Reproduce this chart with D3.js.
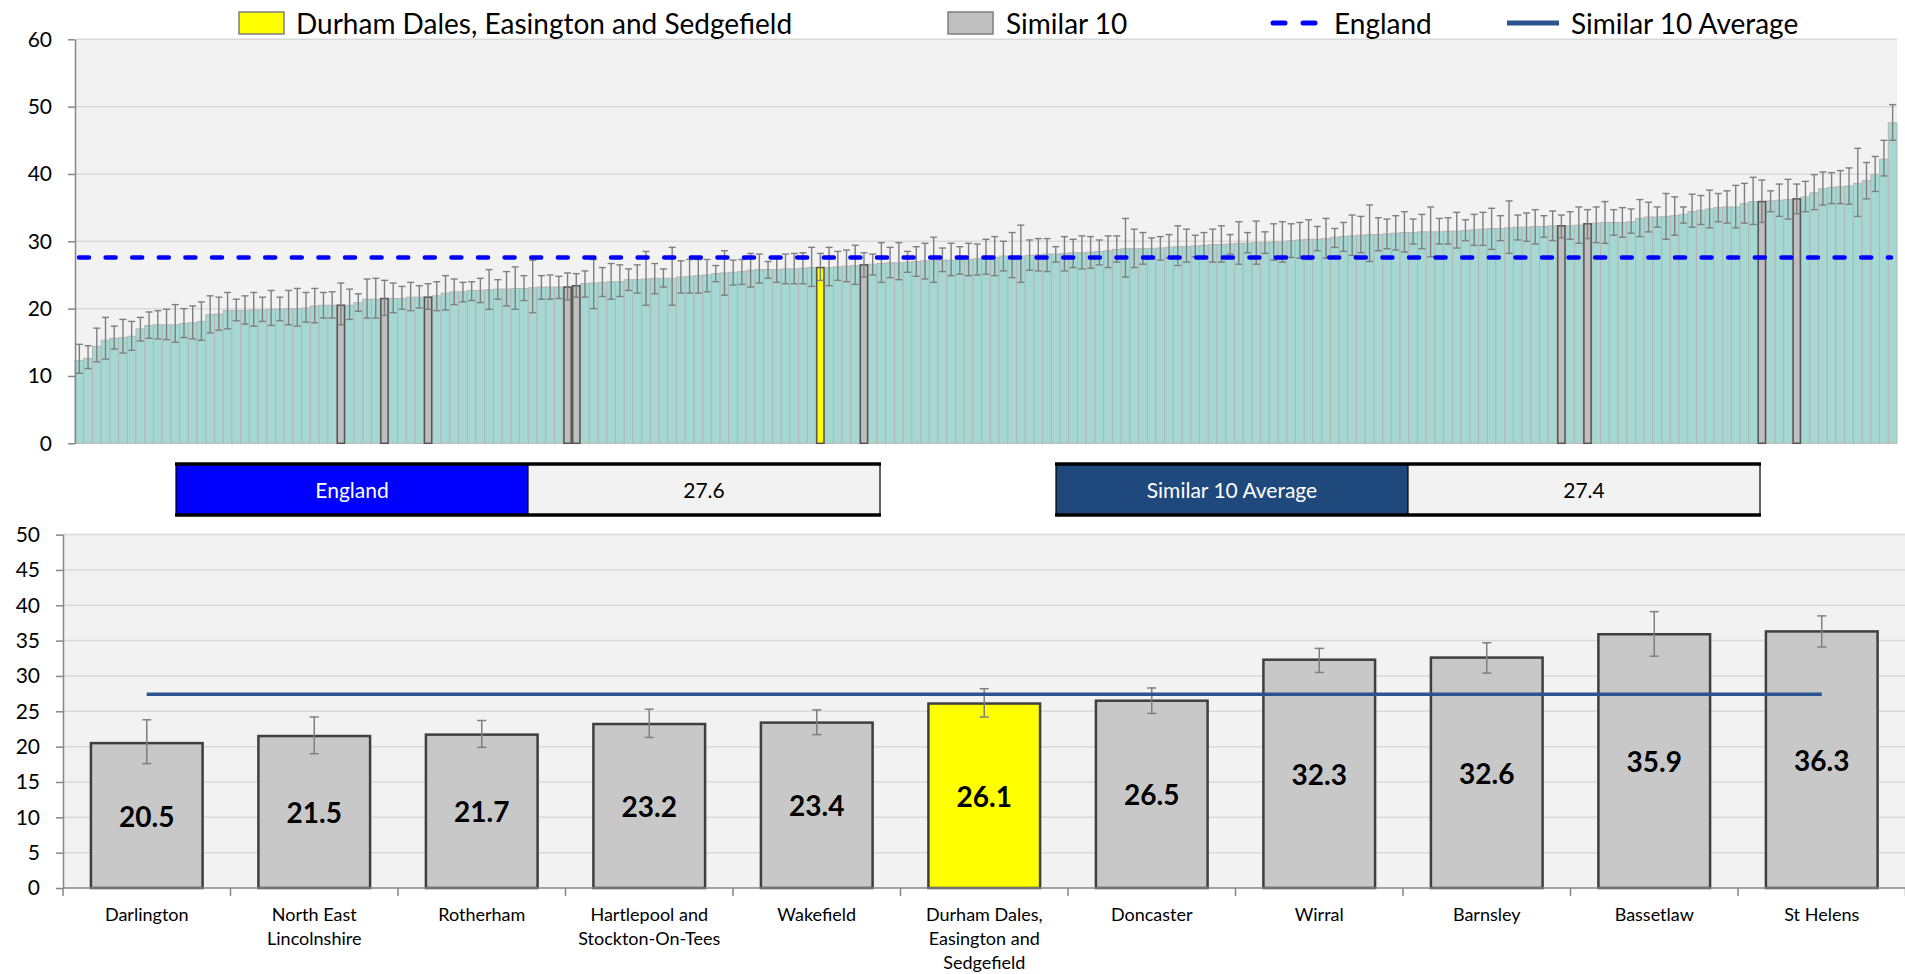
<!DOCTYPE html>
<html><head><meta charset="utf-8">
<script src="https://cdn.jsdelivr.net/npm/d3@7"></script>
<style>body{margin:0;background:#fff;} svg{display:block;font-family:Lato,"Open Sans",sans-serif;}</style>
</head><body>
<svg id="c" width="1905" height="974"></svg>
<script>
// ---------- DATA ----------
// All CCGs, ranked ascending (top chart)
const allValues = [12.3,12.6,14.4,15.3,15.6,15.7,15.9,17.0,17.5,17.6,17.6,17.6,17.8,17.9,18.1,19.1,19.2,19.7,19.7,19.7,
19.8,19.8,19.9,19.9,20.0,20.0,20.1,20.4,20.5,20.5,20.5,20.5,20.9,21.4,21.4,21.5,21.5,21.5,21.7,21.7,
21.7,21.9,22.3,22.5,22.5,22.7,22.7,22.8,22.9,22.9,23.0,23.0,23.1,23.2,23.2,23.2,23.2,23.4,23.7,23.8,
23.9,24.0,24.0,24.3,24.3,24.4,24.5,24.5,24.5,24.7,24.8,24.9,25.0,25.2,25.3,25.4,25.5,25.7,25.8,25.8,
25.8,25.9,25.9,26.0,26.1,26.1,26.1,26.2,26.3,26.4,26.5,26.6,26.7,26.8,26.8,26.9,27.0,27.1,27.1,27.2,
27.2,27.3,27.3,27.4,27.5,27.6,27.8,27.8,27.8,27.9,28.0,28.1,28.1,28.2,28.3,28.3,28.4,28.5,28.6,28.8,
28.9,28.9,28.9,28.9,29.0,29.1,29.2,29.2,29.3,29.4,29.5,29.5,29.6,29.7,29.7,29.8,29.8,29.9,29.9,30.1,
30.2,30.3,30.3,30.4,30.6,30.7,30.8,30.9,31.0,31.0,31.1,31.2,31.3,31.3,31.4,31.4,31.4,31.5,31.5,31.6,
31.7,31.8,31.9,31.9,32.0,32.1,32.1,32.2,32.2,32.3,32.3,32.3,32.4,32.6,32.7,32.8,32.8,32.8,32.9,33.4,
33.6,33.6,33.7,33.8,34.0,34.4,34.6,34.8,35.0,35.1,35.1,35.6,35.9,35.9,36.0,36.1,36.2,36.3,36.6,37.2,
37.8,38.0,38.1,38.2,38.6,39.0,39.9,42.2,47.6];
const allLower = [10.4,11.1,12.1,12.5,14.0,13.4,13.8,15.2,15.6,15.5,15.4,15.0,15.7,15.5,15.3,16.4,16.8,17.0,18.2,17.7,
17.4,18.1,17.5,18.2,17.6,17.4,18.0,17.9,18.6,18.6,17.6,18.4,19.6,18.6,18.6,19.0,19.4,19.9,19.7,20.1,
19.9,19.7,19.8,20.6,21.0,21.2,20.9,19.9,21.4,20.4,19.9,21.2,19.4,21.4,21.4,21.5,21.3,21.7,21.7,20.0,
21.8,21.4,21.8,22.7,22.3,20.5,22.2,23.2,20.5,22.3,22.3,22.3,22.5,24.0,22.0,23.5,23.6,23.2,23.8,24.5,
23.9,23.7,23.7,23.7,23.3,24.2,23.4,24.2,24.0,23.6,24.7,25.0,23.9,24.6,24.3,25.4,24.8,24.4,23.9,25.5,
24.9,25.1,24.9,25.0,25.1,24.9,25.6,24.6,23.9,25.7,25.6,25.5,26.9,25.6,26.1,25.9,26.0,26.5,26.1,26.9,
24.7,26.1,26.6,27.4,27.2,27.5,26.4,26.9,27.7,27.7,26.9,26.9,28.1,26.6,28.3,26.6,28.2,27.2,26.9,27.6,
27.5,27.3,28.6,27.5,29.1,28.5,27.9,28.3,27.0,28.6,28.9,28.7,28.4,29.6,28.9,27.7,29.6,29.6,29.0,30.1,
29.4,29.4,28.8,30.1,28.2,30.2,30.0,29.6,30.6,30.1,30.5,30.3,29.7,30.4,29.8,29.7,30.9,30.6,31.2,30.7,
31.4,32.1,30.3,30.9,32.7,32.1,32.5,32.0,32.9,32.7,32.0,32.7,32.5,32.8,34.4,33.7,33.3,34.1,34.4,34.7,
35.4,35.6,35.6,35.5,33.7,36.3,37.4,39.7,45.0];
const allUpper = [14.7,14.5,17.1,18.7,17.4,18.4,18.1,18.7,19.5,19.7,19.9,20.6,20.0,20.4,21.0,21.9,21.7,22.4,21.4,21.9,
22.4,21.7,22.7,21.7,22.7,23.0,22.4,23.0,22.4,22.5,23.8,22.9,22.2,24.4,24.5,24.2,23.8,23.3,23.9,23.4,
23.7,24.0,24.9,24.4,23.9,24.0,24.5,25.8,24.3,25.5,26.2,24.9,27.2,24.9,25.0,24.8,25.3,25.2,25.6,27.3,
26.1,26.7,26.5,25.9,26.5,28.5,26.7,25.9,29.1,27.1,27.3,27.3,27.3,26.4,28.6,27.2,27.3,28.2,28.1,27.0,
27.6,28.1,28.2,28.3,29.1,28.2,29.1,28.5,28.7,29.4,28.3,28.1,29.8,29.1,29.8,28.5,29.2,29.7,30.6,29.0,
29.7,29.2,29.7,29.6,30.3,30.7,30.0,31.3,32.4,30.2,30.4,30.4,29.2,30.7,30.3,30.8,30.7,30.2,30.8,30.8,
33.4,31.8,31.3,30.5,30.7,31.0,32.3,31.8,30.9,31.3,31.8,32.3,31.0,32.9,31.3,33.0,31.4,32.6,32.9,32.6,
32.8,33.2,32.2,33.4,31.9,32.8,33.9,33.7,35.4,33.5,33.3,33.8,34.4,33.3,34.0,35.1,33.4,33.5,34.3,33.2,
34.0,34.3,34.9,33.8,36.0,33.9,34.2,34.7,33.8,34.5,33.9,34.4,35.1,34.7,35.1,35.9,34.7,35.0,34.8,36.2,
35.8,35.1,37.1,36.6,35.1,37.0,36.8,37.6,37.1,37.5,38.3,38.6,39.5,39.1,37.5,38.5,39.2,38.5,38.9,39.9,
40.3,40.2,40.5,40.9,43.8,41.7,42.6,45.0,50.3];

// Similar 10 + focus CCG (bottom chart)
const similarNames = ["Darlington","North East Lincolnshire","Rotherham","Hartlepool and Stockton-On-Tees","Wakefield",
  "Durham Dales, Easington and Sedgefield","Doncaster","Wirral","Barnsley","Bassetlaw","St Helens"];
const similarValues = [20.5,21.5,21.7,23.2,23.4,26.1,26.5,32.3,32.6,35.9,36.3];
const similarLower  = [17.6,19.0,19.9,21.3,21.7,24.2,24.7,30.5,30.4,32.8,34.1];
const similarUpper  = [23.8,24.2,23.7,25.3,25.2,28.2,28.3,33.9,34.7,39.1,38.5];
const similarRank   = [30,35,40,56,57,85,90,170,173,193,197];   // position in ranked list
const focusName = "Durham Dales, Easington and Sedgefield";
const englandValue = 27.6;
const similarAverage = 27.4;
const topTicks = [0,10,20,30,40,50,60];
const bottomTicks = [0,5,10,15,20,25,30,35,40,45,50];

// ---------- DRAW ----------
const svg = d3.select("#c");
const AX = "#868686", GRID = "#d9d9d9", BG = "#f2f2f2";

// ===== TOP CHART =====
const T = {x0:75, x1:1897, y0:39.3, y1:443.3};
const xT = d3.scaleBand().domain(d3.range(allValues.length)).range([T.x0, T.x1]).padding(0);
const yT = d3.scaleLinear().domain([0,60]).range([T.y1, T.y0]);
svg.append("rect").attr("x",T.x0).attr("y",T.y0).attr("width",T.x1-T.x0).attr("height",T.y1-T.y0).attr("fill",BG);
svg.append("g").selectAll("line").data(topTicks.filter(t=>t>0)).join("line")
  .attr("x1",T.x0).attr("x2",T.x1).attr("y1",d=>yT(d)).attr("y2",d=>yT(d))
  .attr("stroke",GRID).attr("stroke-width",1.5);
svg.append("g").selectAll("rect").data(allValues).join("rect")
  .attr("x",(d,i)=>xT(i)).attr("width",xT.bandwidth())
  .attr("y",d=>yT(d)).attr("height",d=>yT(0)-yT(d))
  .attr("fill","#a6d8d3").attr("stroke","#b5b5b5").attr("stroke-width",1);
// highlighted
svg.append("g").selectAll("rect").data(similarRank).join("rect")
  .attr("x",r=>xT(r)+0.75).attr("width",xT.bandwidth()-1.5)
  .attr("y",r=>yT(allValues[r])).attr("height",r=>yT(0)-yT(allValues[r]))
  .attr("fill",(r,i)=>similarNames[i]===focusName?"#ffff00":"#bfbfbf")
  .attr("stroke","#555").attr("stroke-width",1.5);
// error bars
const ebT = svg.append("g").attr("stroke","#7f7f7f").attr("stroke-width",1.4);
allValues.forEach((v,i)=>{
  const cx = xT(i)+xT.bandwidth()/2, cw = 3.5;
  ebT.append("line").attr("x1",cx).attr("x2",cx).attr("y1",yT(allLower[i])).attr("y2",yT(allUpper[i]));
  ebT.append("line").attr("x1",cx-cw).attr("x2",cx+cw).attr("y1",yT(allLower[i])).attr("y2",yT(allLower[i]));
  ebT.append("line").attr("x1",cx-cw).attr("x2",cx+cw).attr("y1",yT(allUpper[i])).attr("y2",yT(allUpper[i]));
});
// England line
svg.append("line").attr("x1",T.x0+4).attr("x2",T.x1-6).attr("y1",yT(englandValue)).attr("y2",yT(englandValue))
  .attr("stroke","#0000ff").attr("stroke-width",4.5).attr("stroke-dasharray","10,16.6").attr("stroke-linecap","round");
// y axis
const gyT = svg.append("g").attr("transform",`translate(${T.x0},0)`)
  .call(d3.axisLeft(yT).tickValues(topTicks).tickSize(7).tickSizeOuter(0).tickPadding(16));
gyT.selectAll("path,line").attr("stroke",AX).attr("stroke-width",1.5);
gyT.selectAll("text").attr("font-size",21).attr("fill","#000").attr("font-family","Lato");

// legend
const L = svg.append("g").attr("font-size",28).attr("fill","#000");
const ly = 23;
L.append("rect").attr("x",239).attr("y",12).attr("width",45).attr("height",22).attr("fill","#ffff00").attr("stroke","#7f7f7f").attr("stroke-width",1.5);
L.append("text").attr("x",296).attr("y",ly).attr("dominant-baseline","central").text(focusName);
L.append("rect").attr("x",948).attr("y",12).attr("width",45).attr("height",22).attr("fill","#bfbfbf").attr("stroke","#7f7f7f").attr("stroke-width",1.5);
L.append("text").attr("x",1006).attr("y",ly).attr("dominant-baseline","central").text("Similar 10");
L.append("line").attr("x1",1273).attr("x2",1316).attr("y1",ly).attr("y2",ly).attr("stroke","#0000ff")
  .attr("stroke-width",5).attr("stroke-dasharray","12,18").attr("stroke-linecap","round");
L.append("text").attr("x",1334).attr("y",ly).attr("dominant-baseline","central").text("England");
L.append("line").attr("x1",1507).attr("x2",1559).attr("y1",ly).attr("y2",ly).attr("stroke","#2c5490").attr("stroke-width",5);
L.append("text").attr("x",1571).attr("y",ly).attr("dominant-baseline","central").text("Similar 10 Average");

// ===== SUMMARY TABLE =====
function box(x, label, value, fill){
  const g = svg.append("g");
  const y0 = 464, h = 51, w = 352;
  g.append("rect").attr("x",x).attr("y",y0).attr("width",w).attr("height",h).attr("fill",fill);
  g.append("rect").attr("x",x+w).attr("y",y0).attr("width",w).attr("height",h).attr("fill","#f2f2f2");
  g.append("rect").attr("x",x).attr("y",y0).attr("width",2*w).attr("height",h).attr("fill","none").attr("stroke","#000").attr("stroke-width",1.2);
  g.append("line").attr("x1",x+w).attr("x2",x+w).attr("y1",y0).attr("y2",y0+h).attr("stroke","#000").attr("stroke-width",1.2);
  [y0, y0+h].forEach(yy=>g.append("line").attr("x1",x-1).attr("x2",x+2*w+1).attr("y1",yy).attr("y2",yy).attr("stroke","#000").attr("stroke-width",3.5));
  g.append("text").attr("x",x+w/2).attr("y",y0+h/2).attr("text-anchor","middle").attr("dominant-baseline","central")
    .attr("font-size",21).attr("fill","#fff").text(label);
  g.append("text").attr("x",x+1.5*w).attr("y",y0+h/2).attr("text-anchor","middle").attr("dominant-baseline","central")
    .attr("font-size",21).attr("fill","#000").text(value.toFixed(1));
}
box(176, "England", englandValue, "#0000ff");
box(1056, "Similar 10 Average", similarAverage, "#1f497d");

// ===== BOTTOM CHART =====
const B = {x0:63, x1:1905.5, y0:534.6, y1:888};
const xB = d3.scaleBand().domain(similarNames).range([B.x0, B.x1]).paddingInner(1/3).paddingOuter(1/6);
const yB = d3.scaleLinear().domain([0,50]).range([B.y1, B.y0]);
svg.append("rect").attr("x",B.x0).attr("y",B.y0).attr("width",B.x1-B.x0).attr("height",B.y1-B.y0).attr("fill",BG);
svg.append("g").selectAll("line").data(bottomTicks.filter(t=>t>0)).join("line")
  .attr("x1",B.x0).attr("x2",B.x1).attr("y1",d=>yB(d)).attr("y2",d=>yB(d))
  .attr("stroke",GRID).attr("stroke-width",1.5);
const bw = xB.bandwidth();
svg.append("g").selectAll("rect").data(similarNames).join("rect")
  .attr("x",d=>xB(d)).attr("width",bw)
  .attr("y",(d,i)=>yB(similarValues[i])).attr("height",(d,i)=>yB(0)-yB(similarValues[i]))
  .attr("fill",d=>d===focusName?"#ffff00":"#c8c8c8").attr("stroke","#3f3f3f").attr("stroke-width",2.5);
const ebB = svg.append("g").attr("stroke","#7f7f7f").attr("stroke-width",1.5);
similarNames.forEach((n,i)=>{
  const cx = xB(n)+bw/2, cw = 4.5;
  ebB.append("line").attr("x1",cx).attr("x2",cx).attr("y1",yB(similarLower[i])).attr("y2",yB(similarUpper[i]));
  ebB.append("line").attr("x1",cx-cw).attr("x2",cx+cw).attr("y1",yB(similarLower[i])).attr("y2",yB(similarLower[i]));
  ebB.append("line").attr("x1",cx-cw).attr("x2",cx+cw).attr("y1",yB(similarUpper[i])).attr("y2",yB(similarUpper[i]));
});
// average line
svg.append("line").attr("x1",xB(similarNames[0])+bw/2).attr("x2",xB(similarNames[similarNames.length-1])+bw/2)
  .attr("y1",yB(similarAverage)).attr("y2",yB(similarAverage)).attr("stroke","#2c5490").attr("stroke-width",3.5);
// value labels
svg.append("g").selectAll("text").data(similarNames).join("text")
  .attr("x",d=>xB(d)+bw/2).attr("y",(d,i)=>(yB(similarValues[i])+yB(0))/2)
  .attr("text-anchor","middle").attr("dominant-baseline","central")
  .attr("font-size",28).attr("font-weight","bold").attr("fill","#000")
  .text((d,i)=>similarValues[i].toFixed(1));
// y axis
const gyB = svg.append("g").attr("transform",`translate(${B.x0},0)`)
  .call(d3.axisLeft(yB).tickValues(bottomTicks).tickSize(7).tickSizeOuter(0).tickPadding(16));
gyB.selectAll("path,line").attr("stroke",AX).attr("stroke-width",1.5);
gyB.selectAll("text").attr("font-size",21).attr("fill","#000").attr("font-family","Lato");
// x axis
const gxB = svg.append("g");
gxB.append("line").attr("x1",B.x0).attr("x2",B.x1).attr("y1",B.y1).attr("y2",B.y1).attr("stroke",AX).attr("stroke-width",1.5);
const step = xB.step();
gxB.selectAll("line.t").data(d3.range(similarNames.length+1)).join("line").attr("class","t")
  .attr("x1",k=>B.x0+k*step).attr("x2",k=>B.x0+k*step).attr("y1",B.y1).attr("y2",B.y1+8)
  .attr("stroke",AX).attr("stroke-width",1.5);
// category labels with wrapping
const maxW = 150;
similarNames.forEach(n=>{
  const t = svg.append("text").attr("x",xB(n)+bw/2).attr("y",914).attr("text-anchor","middle")
    .attr("dominant-baseline","central").attr("font-size",18).attr("fill","#000");
  const words = n.split(" ");
  let line = [], lineNo = 0;
  let ts = t.append("tspan").attr("x",xB(n)+bw/2).attr("dy",0);
  words.forEach(w=>{
    line.push(w); ts.text(line.join(" "));
    if (ts.node().getComputedTextLength() > maxW && line.length>1){
      line.pop(); ts.text(line.join(" "));
      line = [w]; lineNo++;
      ts = t.append("tspan").attr("x",xB(n)+bw/2).attr("dy",24).text(w);
    }
  });
});
</script>
</body></html>
